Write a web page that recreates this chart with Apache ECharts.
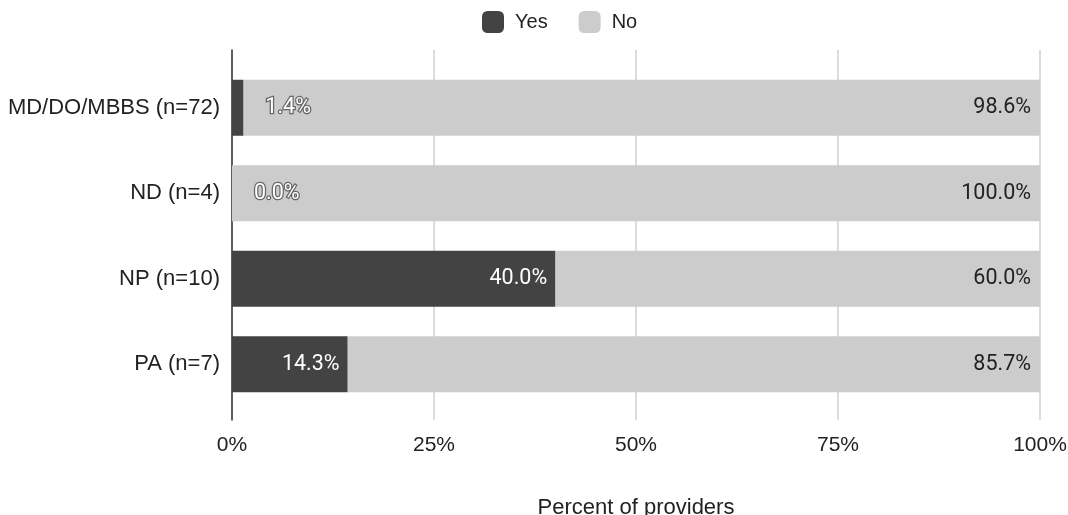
<!DOCTYPE html>
<html>
<head>
<meta charset="utf-8">
<script src="https://cdn.jsdelivr.net/npm/echarts@6/dist/echarts.min.js"></script>
<style>
  html, body { margin: 0; padding: 0; background: #fff; }
  #chart { width: 1068px; height: 515px; }
</style>
</head>
<body>
<div id="chart"></div>
<script>
const categories = ['MD/DO/MBBS (n=72)', 'ND (n=4)', 'NP (n=10)', 'PA (n=7)'];
const yesValues = [1.4, 0.0, 40.0, 14.3];
const noValues = [98.6, 100.0, 60.0, 85.7];
const xTicks = [0, 25, 50, 75, 100];

const chart = echarts.init(document.getElementById('chart'));
const font = '"Liberation Sans", Arial, sans-serif';
const labelFont = 'Roboto, "Liberation Sans", sans-serif';

// small values don't fit inside the bar -> put label outside with outline
const yesData = yesValues.map(v => {
  if (v < 5) {
    return {
      value: v,
      label: {
        position: 'right',
        distance: 22,
        color: '#fff',
        textBorderColor: '#666',
        textBorderWidth: 2.5
      }
    };
  }
  return v;
});

const option = {
  backgroundColor: '#fff',
  animation: false,
  legend: {
    top: 6,
    left: 477,
    itemWidth: 22,
    itemHeight: 22,
    itemGap: 31,
    icon: 'roundRect',
    textStyle: { fontFamily: font, fontSize: 20, color: '#222', padding: [0, 0, 0, 6] },
    data: ['Yes', 'No']
  },
  grid: [
    // bars
    { left: 232, right: 28, top: 65, bottom: 108, outerBoundsMode: 'none', containLabel: false },
    // gridlines / axis frame (extends a bit above and below)
    { left: 232, right: 28, top: 50, bottom: 95, outerBoundsMode: 'none', containLabel: false }
  ],
  xAxis: [
    {
      gridIndex: 0,
      type: 'value',
      min: 0, max: 100, interval: 25,
      axisLine: { show: false },
      axisTick: { show: false },
      axisLabel: { show: false },
      splitLine: { show: false }
    },
    {
      gridIndex: 1,
      type: 'value',
      min: 0, max: 100, interval: 25,
      name: 'Percent of providers',
      nameLocation: 'middle',
      nameGap: 77,
      nameTextStyle: { fontFamily: font, fontSize: 22, color: '#222' },
      axisLine: { show: false },
      axisTick: { show: false },
      axisLabel: {
        margin: 15,
        fontFamily: font, fontSize: 21, color: '#222',
        formatter: v => xTicks.includes(v) ? v + '%' : ''
      },
      splitLine: { show: true, lineStyle: { color: '#d0d0d0', width: 1.5 } }
    }
  ],
  yAxis: [
    {
      gridIndex: 0,
      type: 'category',
      inverse: true,
      data: categories,
      axisLine: { show: false },
      axisTick: { show: false },
      axisLabel: { margin: 12, fontFamily: font, fontSize: 22, color: '#222' }
    },
    {
      gridIndex: 1,
      type: 'value',
      min: 0, max: 1,
      axisLine: { show: true, onZero: false, lineStyle: { color: '#333', width: 1.5 } },
      axisTick: { show: false },
      axisLabel: { show: false },
      splitLine: { show: false }
    }
  ],
  series: [
    {
      name: 'Yes',
      type: 'bar',
      stack: 'total',
      xAxisIndex: 0,
      yAxisIndex: 0,
      barWidth: 56,
      itemStyle: { color: '#434343' },
      label: {
        show: true,
        position: 'insideRight',
        distance: 8,
        color: '#fff',
        fontFamily: labelFont,
        fontSize: 21.5,
        formatter: p => p.value.toFixed(1) + '%'
      },
      data: yesData,
      z: 3
    },
    {
      name: 'No',
      type: 'bar',
      stack: 'total',
      xAxisIndex: 0,
      yAxisIndex: 0,
      barWidth: 56,
      itemStyle: { color: '#cccccc' },
      label: {
        show: true,
        position: 'insideRight',
        distance: 9,
        color: '#222',
        fontFamily: labelFont,
        fontSize: 21.5,
        formatter: p => p.value.toFixed(1) + '%'
      },
      data: noValues,
      z: 2
    }
  ]
};

chart.setOption(option);
</script>
</body>
</html>
